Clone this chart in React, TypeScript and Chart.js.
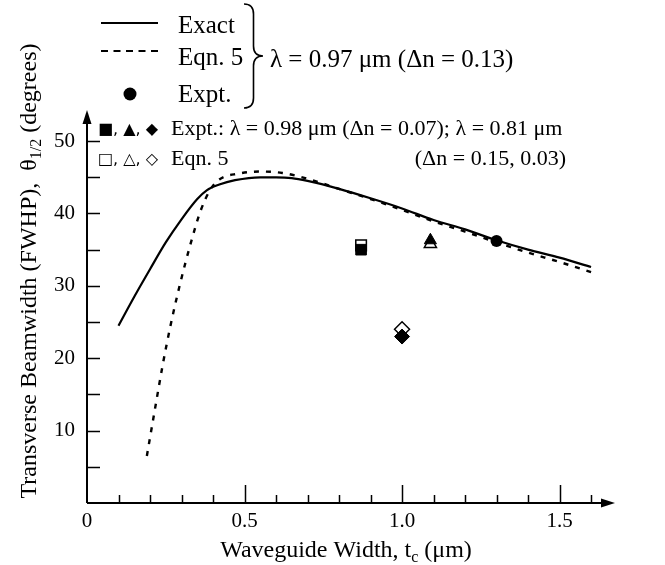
import React, { useEffect, useRef } from 'react';
import { Chart, registerables } from 'chart.js';
Chart.register(...registerables);

// Exact curve (λ = 0.97 µm)
const exactX = [0.1, 0.15, 0.2, 0.25, 0.3, 0.35, 0.38, 0.42, 0.47, 0.55, 0.6, 0.65, 0.7, 0.8, 0.9, 1.0, 1.1, 1.2, 1.3, 1.4, 1.5, 1.6];
const exactY = [24.5, 28.5, 32.3, 36.0, 39.2, 42.0, 43.2, 44.0, 44.6, 45.0, 45.0, 44.9, 44.5, 43.4, 42.1, 40.7, 39.1, 37.8, 36.3, 35.0, 33.9, 32.6];
// Eqn. 5 curve
const eqnX = [0.19, 0.215, 0.24, 0.265, 0.295, 0.33, 0.36, 0.39, 0.42, 0.48, 0.55, 0.62, 0.7, 0.8, 0.9, 1.0, 1.1, 1.2, 1.3, 1.4, 1.5, 1.6];
const eqnY = [6.5, 12.8, 19.0, 24.5, 30.2, 36.0, 40.3, 43.2, 44.7, 45.5, 45.8, 45.6, 44.8, 43.4, 42.0, 40.5, 38.9, 37.5, 36.0, 34.6, 33.3, 31.9];
// Expt. point for λ = 0.97 µm
const circleX = [1.3];
const circleY = [36.2];
// square, triangle, diamond markers
const markerX = [0.87, 1.09, 1.0];
const markerExpt = [35.0, 36.3, 23.0];
const markerEqn = [35.6, 35.8, 24.0];
const markerStyles = ['rect', 'triangle', 'rectRot'];
const markerRadius = [7.5, 7, 7.5];

const xTickValues = [0, 0.5, 1.0, 1.5];
const xTickLabels = ['0', '0.5', '1.0', '1.5'];
const yTickLabels = ['10', '20', '30', '40', '50'];

const SERIF = '"Liberation Serif", "Times New Roman", serif';

function drawBrace(ctx: CanvasRenderingContext2D, x0: number, top: number, bottom: number, w: number) {
  const mid = (top + bottom) / 2;
  const xm = x0 + w * 0.5;
  const r = 10;
  ctx.beginPath();
  ctx.moveTo(x0, top);
  ctx.quadraticCurveTo(xm, top, xm, top + r);
  ctx.lineTo(xm, mid - r);
  ctx.quadraticCurveTo(xm, mid, x0 + w, mid);
  ctx.quadraticCurveTo(xm, mid, xm, mid + r);
  ctx.lineTo(xm, bottom - r);
  ctx.quadraticCurveTo(xm, bottom, x0, bottom);
  ctx.stroke();
}

const decor = {
  id: 'decor',
  afterDraw(chart: any) {
    const ctx: CanvasRenderingContext2D = chart.ctx;
    const xs = chart.scales.x;
    const ys = chart.scales.y;
    const { left, right, top, bottom } = chart.chartArea;
    ctx.save();
    ctx.strokeStyle = '#000';
    ctx.fillStyle = '#000';
    ctx.lineWidth = 2;
    ctx.setLineDash([]);
    // axes
    ctx.beginPath();
    ctx.moveTo(left, bottom);
    ctx.lineTo(right - 10, bottom);
    ctx.moveTo(left, bottom);
    ctx.lineTo(left, top + 10);
    ctx.stroke();
    // arrowheads
    ctx.beginPath();
    ctx.moveTo(right, bottom);
    ctx.lineTo(right - 14, bottom - 4.5);
    ctx.lineTo(right - 14, bottom + 4.5);
    ctx.closePath();
    ctx.fill();
    ctx.beginPath();
    ctx.moveTo(left, top);
    ctx.lineTo(left - 4.5, top + 14);
    ctx.lineTo(left + 4.5, top + 14);
    ctx.closePath();
    ctx.fill();
    // inward ticks
    ctx.lineWidth = 1.5;
    ctx.beginPath();
    for (let v = 5; v <= 50; v += 5) {
      const py = Math.round(ys.getPixelForValue(v)) + 0.5;
      ctx.moveTo(left, py);
      ctx.lineTo(left + 13, py);
    }
    for (let i = 1; i <= 16; i++) {
      const px = Math.round(xs.getPixelForValue(i / 10)) + 0.5;
      const len = i % 5 === 0 ? 18 : 8;
      ctx.moveTo(px, bottom);
      ctx.lineTo(px, bottom - len);
    }
    ctx.stroke();

    // axis titles
    ctx.textBaseline = 'alphabetic';
    ctx.textAlign = 'left';
    const tf = 24;
    const sf = 16;
    {
      const a = 'Waveguide Width, t';
      const b = 'c';
      const c = ' (\u03bcm)';
      ctx.font = `${tf}px ${SERIF}`;
      const wa = ctx.measureText(a).width;
      const wc = ctx.measureText(c).width;
      ctx.font = `${sf}px ${SERIF}`;
      const wb = ctx.measureText(b).width;
      const total = wa + wb + wc;
      const cx = (left + right - 10) / 2;
      let x = cx - total / 2;
      const y = 557;
      ctx.font = `${tf}px ${SERIF}`;
      ctx.fillText(a, x, y);
      x += wa;
      ctx.font = `${sf}px ${SERIF}`;
      ctx.fillText(b, x, y + 5);
      x += wb;
      ctx.font = `${tf}px ${SERIF}`;
      ctx.fillText(c, x, y);
    }
    {
      const a = 'Transverse Beamwidth (FWHP),  \u03b8';
      const b = '1/2';
      const c = ' (degrees)';
      ctx.font = `${tf}px ${SERIF}`;
      const wa = ctx.measureText(a).width;
      const wc = ctx.measureText(c).width;
      ctx.font = `${sf}px ${SERIF}`;
      const wb = ctx.measureText(b).width;
      const total = wa + wb + wc;
      ctx.save();
      ctx.translate(36, 271);
      ctx.rotate(-Math.PI / 2);
      let x = -total / 2;
      ctx.font = `${tf}px ${SERIF}`;
      ctx.fillText(a, x, 0);
      x += wa;
      ctx.font = `${sf}px ${SERIF}`;
      ctx.fillText(b, x, 5);
      x += wb;
      ctx.font = `${tf}px ${SERIF}`;
      ctx.fillText(c, x, 0);
      ctx.restore();
    }

    // top legend
    const lf = 25;
    ctx.lineWidth = 2;
    ctx.beginPath();
    ctx.moveTo(101, 23);
    ctx.lineTo(158, 23);
    ctx.stroke();
    ctx.setLineDash([7, 5.5]);
    ctx.beginPath();
    ctx.moveTo(101, 51);
    ctx.lineTo(160, 51);
    ctx.stroke();
    ctx.setLineDash([]);
    ctx.beginPath();
    ctx.arc(130, 94, 6.5, 0, Math.PI * 2);
    ctx.fill();
    ctx.font = `${lf}px ${SERIF}`;
    ctx.fillText('Exact', 178, 33);
    ctx.fillText('Eqn. 5', 178, 65);
    ctx.fillText('Expt.', 178, 102);
    ctx.lineWidth = 1.6;
    drawBrace(ctx, 244, 4, 108, 19);
    ctx.fillText('\u03bb = 0.97 \u03bcm (\u0394n = 0.13)', 270, 67);

    // middle legend
    ctx.font = `16px "DejaVu Sans", sans-serif`;
    ctx.fillText('\u25a0, \u25b2, \u25c6', 98, 134);
    ctx.fillText('\u25a1, \u25b3, \u25c7', 98, 164);
    ctx.font = `22px ${SERIF}`;
    ctx.fillText('Expt.: \u03bb = 0.98 \u03bcm (\u0394n = 0.07); \u03bb = 0.81 \u03bcm', 171, 135);
    ctx.fillText('Eqn. 5', 171, 165);
    ctx.textAlign = 'right';
    ctx.fillText('(\u0394n = 0.15, 0.03)', 566, 165);
    ctx.restore();
  },
};

export default function App() {
  const ref = useRef<HTMLCanvasElement | null>(null);
  useEffect(() => {
    if (!ref.current) return;
    const filled = markerX.map((x, i) => ({
      label: 'expt' + i,
      data: [{ x, y: markerExpt[i] }],
      pointStyle: markerStyles[i],
      pointRadius: markerRadius[i],
      backgroundColor: '#000',
      borderColor: '#000',
      borderWidth: 1,
    }));
    const open = markerX.map((x, i) => ({
      label: 'eqn' + i,
      data: [{ x, y: markerEqn[i] }],
      pointStyle: markerStyles[i],
      pointRadius: markerRadius[i],
      backgroundColor: '#fff',
      borderColor: '#000',
      borderWidth: 1.5,
    }));
    const chart = new Chart(ref.current, {
      type: 'scatter',
      data: {
        datasets: [
          {
            label: 'Expt. 0.97',
            data: circleX.map((x, i) => ({ x, y: circleY[i] })),
            pointStyle: 'circle',
            pointRadius: 6,
            backgroundColor: '#000',
            borderColor: '#000',
            borderWidth: 0,
          },
          ...filled,
          ...open,
          {
            type: 'line',
            label: 'Exact',
            data: exactX.map((x, i) => ({ x, y: exactY[i] })),
            borderColor: '#000',
            borderWidth: 2.2,
            pointRadius: 0,
            showLine: true,
            fill: false,
            cubicInterpolationMode: 'monotone',
          },
          {
            type: 'line',
            label: 'Eqn. 5',
            data: eqnX.map((x, i) => ({ x, y: eqnY[i] })),
            borderColor: '#000',
            borderWidth: 2.4,
            borderDash: [5, 7],
            pointRadius: 0,
            showLine: true,
            fill: false,
            cubicInterpolationMode: 'monotone',
          },
        ] as any,
      },
      options: {
        animation: false,
        responsive: false,
        devicePixelRatio: 1,
        layout: { padding: { top: 110, right: 50, left: 0, bottom: 0 } },
        plugins: { legend: { display: false }, tooltip: { enabled: false } },
        scales: {
          x: {
            type: 'linear',
            min: 0,
            max: 1.676,
            afterFit: (s: any) => { s.height = 62; },
            grid: { display: false, drawTicks: false },
            border: { display: false },
            ticks: {
              stepSize: 0.1,
              autoSkip: false,
              maxRotation: 0,
              padding: 6,
              color: '#000',
              font: { family: SERIF, size: 21 },
              callback: (v: any) => {
                const idx = xTickValues.findIndex((t) => Math.abs(t - Number(v)) < 1e-6);
                return idx >= 0 ? xTickLabels[idx] : '';
              },
            },
          },
          y: {
            type: 'linear',
            min: 0,
            max: 54.3,
            afterFit: (s: any) => { s.width = 87; },
            grid: { display: false, drawTicks: false },
            border: { display: false },
            ticks: {
              stepSize: 5,
              autoSkip: false,
              padding: 12,
              color: '#000',
              font: { family: SERIF, size: 21 },
              callback: (v: any) => {
                const n = Number(v);
                if (n > 0 && Math.abs(n / 10 - Math.round(n / 10)) < 1e-6) {
                  return yTickLabels[Math.round(n / 10) - 1] ?? '';
                }
                return '';
              },
            },
          },
        },
      } as any,
      plugins: [decor],
    });
    return () => chart.destroy();
  }, []);
  return (
    <div style={{ position: 'fixed', left: 0, top: 0, width: 665, height: 565, background: '#fff' }}>
      <canvas ref={ref} width={665} height={565} style={{ width: 665, height: 565, display: 'block' }} />
    </div>
  );
}
